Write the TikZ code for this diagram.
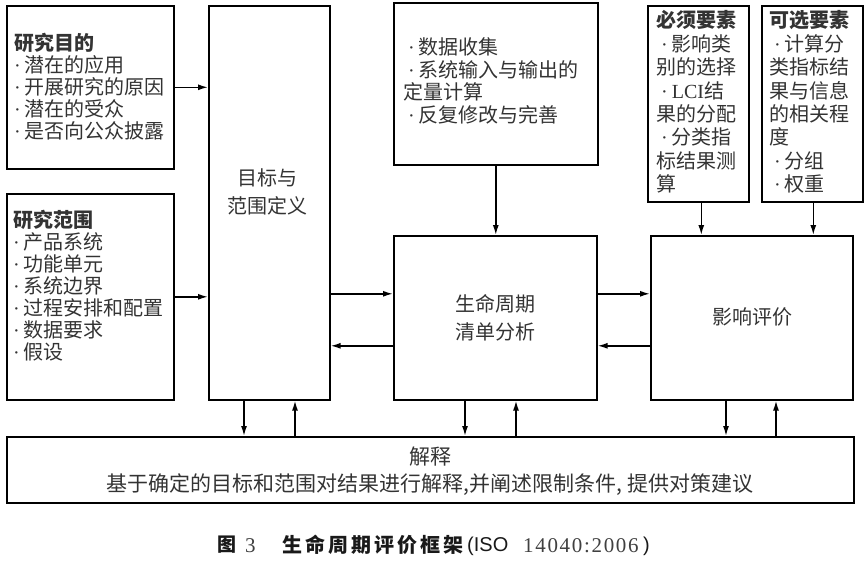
\documentclass[tikz,border=0pt]{standalone}
\usepackage{fontspec}
\setmainfont{Liberation Serif}
\setsansfont{Liberation Sans}
\newfontfamily\cjk{Noto Sans CJK SC}
\newcommand\mybul{{\rmfamily ·}\hspace{4pt}}
\usetikzlibrary{arrows.meta,calc}
\begin{document}
\begin{tikzpicture}[x=1pt,y=-1pt,
  box/.style={draw, line width=1.6pt, inner sep=0pt, anchor=north west},
  arr/.style={line width=1.5pt, -{Latex[length=10pt,width=6pt]}},
  txt/.style={font=\cjk\fontsize{20}{22}\selectfont, text=black!80, inner sep=0pt, align=left},
  big/.style={font=\cjk\fontsize{20}{28}\selectfont, text=black!80, inner sep=0pt, align=center},
  captxt/.style={inner sep=0pt, anchor=west, text=black!90}]
\useasboundingbox (0,0) rectangle (865,562);
% boxes
\node[box, minimum width=167pt, minimum height=163pt] (A) at (6,5) {};
\node[box, minimum width=167pt, minimum height=206pt] (B) at (6,193) {};
\node[box, minimum width=121pt, minimum height=394pt] (G) at (208,5) {};
\node[box, minimum width=204pt, minimum height=162pt] (D) at (393,2) {};
\node[box, minimum width=101pt, minimum height=196pt] (M) at (647,5) {};
\node[box, minimum width=101pt, minimum height=196pt] (O) at (761,5) {};
\node[box, minimum width=203pt, minimum height=164pt] (L) at (393,235) {};
\node[box, minimum width=202pt, minimum height=164pt] (P) at (650,235) {};
\node[box, minimum width=847pt, minimum height=66pt] (I) at (6,436) {};
% texts
\node[txt, anchor=west] (At) at (14,87) {{\bfseries 研究目的}\\\mybul 潜在的应用\\\mybul 开展研究的原因\\\mybul 潜在的受众\\\mybul 是否向公众披露};
\node[txt, anchor=west] (Bt) at (13,286) {{\bfseries 研究范围}\\\mybul 产品系统\\\mybul 功能单元\\\mybul 系统边界\\\mybul 过程安排和配置\\\mybul 数据要求\\\mybul 假设};
\node[big] (Gt) at (267,192) {目标与\\范围定义};
\node[txt, anchor=west, font=\cjk\fontsize{20}{22.5}\selectfont] (Dt) at (403,81) {\hspace{5pt}\mybul 数据收集\\\hspace{5pt}\mybul 系统输入与输出的\\定量计算\\\hspace{5pt}\mybul 反复修改与完善};
\node[txt, anchor=west, font=\cjk\fontsize{20}{23.4}\selectfont] (Mt) at (656,102) {{\bfseries 必须要素}\\\hspace{5pt}\mybul 影响类\\别的选择\\\hspace{5pt}\mybul{\rmfamily LCI}结\\果的分配\\\hspace{5pt}\mybul 分类指\\标结果测\\算};
\node[txt, anchor=west, font=\cjk\fontsize{20}{23.4}\selectfont] (Ot) at (769,102) {{\bfseries 可选要素}\\\hspace{5pt}\mybul 计算分\\类指标结\\果与信息\\的相关程\\度\\\hspace{5pt}\mybul 分组\\\hspace{5pt}\mybul 权重};
\node[big] (Lt) at (495,318) {生命周期\\清单分析};
\node[big] (Pt) at (752,317) {影响评价};
\node[big, font=\cjk\fontsize{21}{27}\selectfont] (It) at (430,471) {解释\\基于确定的目标和范围对结果进行解释,并阐述限制条件, 提供对策建议};
% caption
\node[captxt, font=\cjk\bfseries\fontsize{19}{20}\selectfont] (cap1) at (217,545) {图};
\node[captxt, font=\rmfamily\fontsize{21}{21}\selectfont, text=black!75] (cap2) at (245,546) {3};
\node[captxt, font=\cjk\bfseries\addfontfeature{LetterSpace=15}\fontsize{20}{20}\selectfont] (cap3) at (282,545) {生命周期评价框架};
\node[captxt, font=\sffamily\fontsize{20}{20}\selectfont] (cap4) at (467,546) {(ISO};
\node[captxt, font=\rmfamily\addfontfeature{LetterSpace=8}\fontsize{21}{21}\selectfont, text=black!75] (cap5) at (523,546) {14040:2006};
\node[captxt, font=\sffamily\fontsize{20}{20}\selectfont] (cap6) at (643,546) {)};
% horizontal arrows
\draw[arr] (A.east) -- (A.east -| G.west);
\draw[arr] (B.east) -- (B.east -| G.west);
\coordinate (h1) at ($(L.west)+(0,-24)$);
\coordinate (h2) at ($(L.west)+(0,28)$);
\draw[arr] (G.east |- h1) -- (h1);
\draw[arr] (h2) -- (G.east |- h2);
\coordinate (h3) at ($(P.west)+(0,-24)$);
\coordinate (h4) at ($(P.west)+(0,28)$);
\draw[arr] (L.east |- h3) -- (h3);
\draw[arr] (h4) -- (L.east |- h4);
% top arrows
\draw[arr] (D.south) -- (D.south |- L.north);
\coordinate (m1) at ($(M.south)+(3,0)$);
\draw[arr] (m1) -- (m1 |- P.north);
\coordinate (o1) at ($(O.south)+(1,0)$);
\draw[arr] (o1) -- (o1 |- P.north);
% bottom arrows
\coordinate (g1) at ($(G.south west)+(36,0)$);
\coordinate (g2) at ($(G.south west)+(87,0)$);
\draw[arr] (g1) -- (g1 |- I.north);
\draw[arr] (g2 |- I.north) -- (g2);
\coordinate (l1) at ($(L.south west)+(72,0)$);
\coordinate (l2) at ($(L.south west)+(123,0)$);
\draw[arr] (l1) -- (l1 |- I.north);
\draw[arr] (l2 |- I.north) -- (l2);
\coordinate (p1) at ($(P.south west)+(76,0)$);
\coordinate (p2) at ($(P.south west)+(126,0)$);
\draw[arr] (p1) -- (p1 |- I.north);
\draw[arr] (p2 |- I.north) -- (p2);
\end{tikzpicture}
\end{document}
